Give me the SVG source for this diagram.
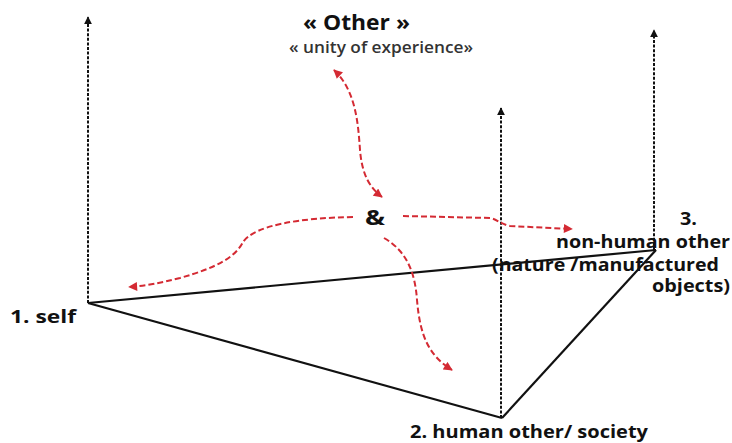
<svg xmlns="http://www.w3.org/2000/svg" width="732" height="443" viewBox="0 0 732 443">
<defs>
<style>
.axis{fill:none;stroke:#111;stroke-width:2;stroke-dasharray:3 1.6}
.edge{fill:none;stroke:#111;stroke-width:2.2}
.rel{fill:none;stroke:#d42a33;stroke-width:2;stroke-dasharray:6 3}
.lbl{font-family:"Open Sans","Liberation Sans",sans-serif;font-weight:bold;fill:#111}
.sub{font-family:"Open Sans","Liberation Sans",sans-serif;fill:#333;font-weight:600}
</style>
<marker id="ah" viewBox="0 0 10 10" refX="9" refY="5" markerWidth="8" markerHeight="8" markerUnits="userSpaceOnUse" orient="auto">
<path d="M0,0 L10,5 L0,10 z" fill="#111"/>
</marker>
<marker id="rh" viewBox="0 0 10 10" refX="9" refY="5" markerWidth="10" markerHeight="9" markerUnits="userSpaceOnUse" orient="auto-start-reverse">
<path d="M0,0 L10,5 L0,10 z" fill="#d42a33"/>
</marker>
</defs>
<rect width="732" height="443" fill="#fff"/>
<g id="connectors">
<line class="axis" x1="88" y1="303" x2="88" y2="17" marker-end="url(#ah)"/>
<line class="axis" x1="501" y1="418" x2="501" y2="108" marker-end="url(#ah)"/>
<line class="axis" x1="654" y1="250" x2="654" y2="30" marker-end="url(#ah)"/>
<line class="edge" x1="88" y1="303" x2="656" y2="250"/>
<line class="edge" x1="88" y1="303" x2="502" y2="418"/>
<line class="edge" x1="502" y1="418" x2="656" y2="250"/>
<path class="rel" d="M334,70 C355,90 358,120 360,150 C362,175 370,188 382,197" marker-start="url(#rh)" marker-end="url(#rh)"/>
<path class="rel" d="M353,217 C300,218 255,225 243,242 C235,258 215,268 180,278 C160,283 145,286 129,287" marker-end="url(#rh)"/>
<path class="rel" d="M403,216 L490,218 C497,219 500,224 510,226 L572,229" marker-end="url(#rh)"/>
<path class="rel" d="M384,238 C405,250 415,270 417,300 C420,335 428,355 452,370" marker-end="url(#rh)"/>
</g>
<g id="other">
<text class="lbl" x="303" y="30" font-size="21" textLength="107" lengthAdjust="spacingAndGlyphs">« Other »</text>
<text class="sub" x="289" y="53" font-size="17" textLength="184" lengthAdjust="spacingAndGlyphs">« unity of experience»</text>
</g>
<g id="and">
<text class="lbl" x="365" y="225" font-size="21" textLength="20" lengthAdjust="spacingAndGlyphs">&amp;</text>
</g>
<g id="self">
<text class="lbl" x="10" y="323" font-size="18" textLength="66" lengthAdjust="spacingAndGlyphs">1. self</text>
</g>
<g id="human">
<text class="lbl" x="410" y="438" font-size="18" textLength="238" lengthAdjust="spacingAndGlyphs">2. human other/ society</text>
</g>
<g id="nonhuman">
<text class="lbl" x="680" y="225" font-size="18" textLength="17" lengthAdjust="spacingAndGlyphs">3.</text>
<text class="lbl" x="556" y="248" font-size="17" textLength="174" lengthAdjust="spacingAndGlyphs">non-human other</text>
<text class="lbl" x="492" y="271" font-size="17" textLength="227" lengthAdjust="spacingAndGlyphs">(nature /manufactured</text>
<text class="lbl" x="652" y="292" font-size="17" textLength="78" lengthAdjust="spacingAndGlyphs">objects)</text>
</g>
</svg>
